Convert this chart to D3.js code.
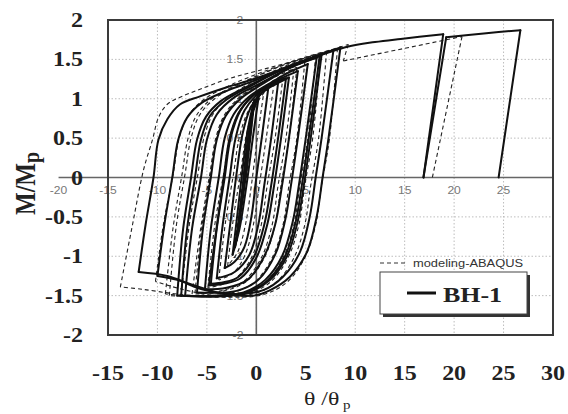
<!DOCTYPE html>
<html>
<head>
<meta charset="utf-8">
<script src="https://cdn.jsdelivr.net/npm/d3@7"></script>
<style>
  html, body { margin: 0; padding: 0; background: #fff; }
  svg { display: block; }
</style>
</head>
<body>
<svg id="chart" width="568" height="414"></svg>
<script>
// Axis ticks (rotation ratio θ/θp and moment ratio M/Mp)
const xTicks = [-15, -10, -5, 0, 5, 10, 15, 20, 25, 30];
const yTicks = [2, 1.5, 1, 0.5, 0, -0.5, -1, -1.5, -2];
const innerXTicks = [-20, -15, -10, -5, 0, 5, 10, 15, 20, 25];
const innerYTicks = [2, 1.5, 1, 0.5, 0, -0.5, -1, -1.5, -2];

// Specimen BH-1, measured hysteresis: one branch per half cycle (θ/θp, M/Mp)
const bh1Test = [
  [[-1.1,0.0],[-0.7,0.5],[-0.3,0.95]],
  [[-0.3,0.95],[-0.75,0.45],[-1.3,-0.1],[-1.7,-0.5],[-2.0,-0.8]],
  [[-2.0,-0.8],[-1.5,-0.25],[-0.9,0.45],[-0.2,0.98]],
  [[-0.2,0.98],[-0.7,0.4],[-1.4,-0.3],[-2.15,-0.88]],
  [[-2.15,-0.88],[-1.6,-0.4],[-1.0,0.25],[-0.5,0.75],[0.3,1.08]],
  [[0.3,1.08],[-0.3,0.55],[-1.0,-0.1],[-1.7,-0.65],[-2.4,-0.98]],
  [[-2.4,-0.98],[-1.9,-0.45],[-1.3,0.2],[-0.8,0.65],[-0.2,0.95],[0.5,1.07],[1.2,1.13]],
  [[1.2,1.13],[0.6,0.55],[0.0,0.0],[-0.5,-0.5],[-1.2,-0.88],[-2.2,-1.07],[-3.2,-1.15]],
  [[-3.2,-1.15],[-2.6,-0.55],[-2.0,0.05],[-1.4,0.55],[-0.6,0.88],[0.6,1.08],[2.2,1.20]],
  [[2.2,1.20],[1.5,0.5],[0.8,-0.1],[0.2,-0.6],[-0.7,-0.98],[-2.2,-1.2],[-4.0,-1.28]],
  [[-4.0,-1.28],[-3.4,-0.6],[-2.7,0.0],[-2.1,0.5],[-1.2,0.85],[0.3,1.08],[1.8,1.2],[3.0,1.26]],
  [[3.0,1.26],[2.2,0.5],[1.5,-0.1],[0.8,-0.6],[-0.3,-1.02],[-1.9,-1.27],[-3.3,-1.33],[-4.6,-1.35]],
  [[-4.6,-1.35],[-4.0,-0.65],[-3.2,0.0],[-2.6,0.5],[-1.6,0.85],[0.0,1.08],[1.8,1.18],[3.3,1.27]],
  [[3.3,1.27],[2.5,0.5],[1.8,-0.1],[1.1,-0.6],[0.0,-1.02],[-1.6,-1.28],[-3.3,-1.35],[-4.8,-1.37]],
  [[-4.8,-1.37],[-4.0,-0.62],[-3.3,0.0],[-2.7,0.5],[-1.8,0.82],[-0.4,1.03],[1.6,1.2],[4.2,1.35]],
  [[4.2,1.35],[3.3,0.5],[2.6,-0.1],[1.9,-0.6],[0.8,-1.0],[-0.9,-1.3],[-3.0,-1.4],[-5.2,-1.42]],
  [[-5.2,-1.42],[-4.6,-0.65],[-3.8,0.0],[-3.2,0.5],[-2.3,0.8],[-0.8,1.02],[1.4,1.2],[3.4,1.34],[5.2,1.44]],
  [[5.2,1.44],[4.2,0.5],[3.5,-0.1],[2.9,-0.55],[1.9,-0.98],[0.2,-1.3],[-2.0,-1.44],[-6.0,-1.46]],
  [[-6.0,-1.46],[-5.4,-0.65],[-4.6,0.0],[-4.0,0.48],[-3.1,0.78],[-1.6,1.0],[0.8,1.2],[3.5,1.4],[6.1,1.52]],
  [[6.1,1.52],[5.0,0.5],[4.3,-0.1],[3.7,-0.55],[2.6,-1.0],[0.9,-1.3],[-1.3,-1.46],[-4.2,-1.5],[-7.2,-1.5]],
  [[-7.2,-1.5],[-6.5,-0.65],[-5.6,0.0],[-5.0,0.48],[-4.0,0.8],[-2.2,1.02],[0.5,1.2],[3.5,1.4],[6.4,1.54]],
  [[6.4,1.54],[5.3,0.5],[4.6,-0.1],[4.0,-0.55],[2.9,-1.0],[1.2,-1.3],[-1.0,-1.46],[-4.2,-1.51],[-7.6,-1.5]],
  [[-7.6,-1.5],[-7.0,-0.65],[-6.2,0.0],[-5.6,0.48],[-4.7,0.78],[-3.0,0.99],[-0.3,1.18],[3.0,1.4],[6.6,1.56]],
  [[6.6,1.56],[5.5,0.5],[4.8,-0.1],[4.2,-0.55],[3.1,-1.0],[1.4,-1.3],[-0.8,-1.46],[-4.0,-1.51],[-8.0,-1.5]],
  [[-8.0,-1.5],[-7.4,-0.65],[-6.6,0.0],[-6.0,0.48],[-5.1,0.77],[-3.6,0.97],[-1.0,1.15],[2.5,1.36],[5.2,1.5],[7.8,1.62]],
  [[7.8,1.62],[6.6,0.5],[6.0,0.0],[5.4,-0.5],[4.4,-0.95],[2.7,-1.26],[0.7,-1.43],[-2.5,-1.48],[-5.5,-1.42],[-8.0,-1.3],[-10.0,-1.25]],
  [[-10.0,-1.25],[-9.3,-0.6],[-8.5,0.0],[-7.9,0.48],[-7.0,0.76],[-5.5,0.95],[-3.0,1.1],[0.0,1.24],[4.0,1.44],[8.5,1.65]],
  [[8.5,1.65],[7.3,0.5],[6.7,0.0],[6.1,-0.5],[5.1,-0.95],[3.4,-1.26],[1.4,-1.43],[-0.3,-1.5],[-3.5,-1.47],[-6.5,-1.36],[-9.0,-1.25],[-11.9,-1.2]],
  [[-11.9,-1.2],[-11.2,-0.6],[-10.4,0.0],[-9.9,0.48],[-9.0,0.74],[-7.7,0.93],[-5.7,1.03],[-2.9,1.15],[0.0,1.26],[4.4,1.46],[9.2,1.66],[12.0,1.72],[14.6,1.76],[18.9,1.82]],
  [[18.9,1.82],[16.9,0.0]],
  [[16.9,0.0],[19.2,1.78]],
  [[19.2,1.78],[23.0,1.83],[26.7,1.87]],
  [[26.7,1.87],[24.5,0.0]]
];

// Finite element prediction (ABAQUS), same branch layout
const abaqusModel = [
  [[-1.0,0.0],[-0.6,0.5],[-0.2,1.0]],
  [[-0.2,1.0],[-0.7,0.45],[-1.3,-0.15],[-1.8,-0.55],[-2.2,-0.9]],
  [[-2.2,-0.9],[-1.7,-0.4],[-1.1,0.2],[-0.5,0.7],[0.1,0.98],[0.8,1.12]],
  [[0.8,1.12],[0.1,0.5],[-0.5,-0.1],[-1.1,-0.6],[-1.9,-0.95],[-2.9,-1.12]],
  [[-2.9,-1.12],[-2.3,-0.5],[-1.6,0.05],[-1.0,0.55],[-0.2,0.88],[0.8,1.08],[1.8,1.2]],
  [[1.8,1.2],[1.0,0.5],[0.3,-0.1],[-0.3,-0.6],[-1.2,-1.0],[-2.4,-1.22],[-3.8,-1.3]],
  [[-3.8,-1.3],[-3.1,-0.55],[-2.3,0.05],[-1.7,0.52],[-0.8,0.85],[0.5,1.08],[2.7,1.28]],
  [[2.7,1.28],[1.9,0.5],[1.1,-0.1],[0.5,-0.6],[-0.5,-1.02],[-2.3,-1.3],[-4.9,-1.4]],
  [[-4.9,-1.4],[-4.2,-0.6],[-3.3,0.05],[-2.7,0.5],[-1.8,0.82],[-0.3,1.05],[1.6,1.22],[3.8,1.38]],
  [[3.8,1.38],[3.0,0.5],[2.2,-0.1],[1.6,-0.6],[0.5,-1.02],[-1.3,-1.32],[-3.6,-1.44],[-6.2,-1.47]],
  [[-6.2,-1.47],[-5.5,-0.62],[-4.6,0.05],[-4.0,0.5],[-3.1,0.8],[-1.5,1.03],[1.0,1.22],[4.1,1.4]],
  [[4.1,1.4],[3.3,0.5],[2.5,-0.1],[1.9,-0.6],[0.8,-1.02],[-1.0,-1.32],[-3.6,-1.45],[-6.5,-1.48]],
  [[-6.5,-1.48],[-5.6,-0.62],[-4.7,0.05],[-4.1,0.5],[-3.2,0.8],[-1.6,1.03],[1.2,1.25],[4.9,1.47]],
  [[4.9,1.47],[4.1,0.5],[3.3,-0.1],[2.7,-0.6],[1.6,-1.02],[-0.2,-1.33],[-2.6,-1.47],[-5.0,-1.5],[-7.6,-1.5]],
  [[-7.6,-1.5],[-6.8,-0.62],[-5.9,0.05],[-5.3,0.5],[-4.4,0.8],[-2.8,1.02],[0.0,1.24],[3.0,1.42],[6.0,1.55]],
  [[6.0,1.55],[5.2,0.5],[4.4,-0.1],[3.8,-0.6],[2.7,-1.02],[0.9,-1.33],[-1.5,-1.47],[-5.0,-1.51],[-8.8,-1.5]],
  [[-8.8,-1.5],[-8.1,-0.62],[-7.2,0.05],[-6.6,0.5],[-5.7,0.8],[-4.0,1.02],[-1.0,1.22],[3.0,1.44],[6.5,1.57]],
  [[6.5,1.57],[5.7,0.5],[4.9,-0.1],[4.3,-0.6],[3.2,-1.02],[1.4,-1.33],[-1.0,-1.48],[-5.0,-1.51],[-9.2,-1.48]],
  [[-9.2,-1.48],[-8.4,-0.62],[-7.5,0.05],[-6.9,0.5],[-6.0,0.8],[-4.3,1.02],[-1.2,1.22],[3.0,1.44],[7.1,1.6]],
  [[7.1,1.6],[6.3,0.5],[5.5,-0.1],[4.9,-0.6],[3.8,-1.02],[2.0,-1.33],[-0.4,-1.48],[-4.0,-1.5],[-7.5,-1.42],[-10.2,-1.32]],
  [[-10.2,-1.32],[-9.4,-0.6],[-8.4,0.05],[-7.8,0.5],[-6.9,0.78],[-5.3,0.99],[-2.5,1.18],[1.5,1.38],[5.0,1.53],[8.2,1.64]],
  [[8.2,1.64],[7.4,0.5],[6.6,-0.1],[6.0,-0.6],[4.9,-1.02],[3.1,-1.33],[0.6,-1.49],[-3.5,-1.52],[-8.0,-1.48],[-11.5,-1.42],[-13.75,-1.39]],
  [[-13.75,-1.39],[-12.6,-0.65],[-11.4,0.1],[-10.5,0.48],[-9.9,0.76],[-9.0,0.93],[-7.7,1.02],[-5.7,1.12],[-2.9,1.25],[0.0,1.35],[4.4,1.5],[9.3,1.69]],
  [[9.3,1.69],[8.8,1.48]],
  [[8.8,1.48],[20.8,1.79]],
  [[20.8,1.79],[17.8,0.0]]
];

const seriesNames = ["BH-1", "modeling-ABAQUS"];

const svg = d3.select("#chart");
const x = d3.scaleLinear().domain([-15, 30]).range([108, 553]);
const y = d3.scaleLinear().domain([-2, 2]).range([335, 20]);

// Horizontally widened text, as in the original figure
function wideText(parent, px, py, str, o) {
  return parent.append("text")
    .attr("transform", `translate(${px},${py}) scale(${o.sx || 1},1)`)
    .attr("text-anchor", o.anchor || "start")
    .attr("font-family", o.family)
    .attr("font-weight", o.weight || "normal")
    .attr("font-size", o.size)
    .attr("fill", o.fill || "#222")
    .text(str);
}

// Dotted grid
const grid = svg.append("g").attr("stroke", "#bdbdbd").attr("stroke-width", 1)
  .attr("stroke-dasharray", "1.5,2");
grid.selectAll("line.v").data(xTicks.filter(v => v > -15 && v < 30)).join("line")
  .attr("x1", d => x(d)).attr("x2", d => x(d)).attr("y1", y(2)).attr("y2", y(-2));
grid.selectAll("line.h").data(yTicks.filter(v => v > -2 && v < 2)).join("line")
  .attr("x1", x(-15)).attr("x2", x(30)).attr("y1", d => y(d)).attr("y2", d => y(d));

// Small inner labels along the zero axes
const inner = svg.append("g");
const sans = "Liberation Sans, Arial, sans-serif";
innerXTicks.forEach(v => {
  wideText(inner, x(v), y(0) + 16, String(v),
    { sx: 1.15, anchor: "middle", family: sans, size: 10.5, fill: "#777" });
});
innerYTicks.forEach(v => {
  wideText(inner, x(0) - 13, y(v) + 4, String(v),
    { sx: 1.15, anchor: "end", family: sans, size: 10.5, fill: "#777" });
});

// Zero axes
svg.append("line").attr("x1", x(-20)).attr("x2", x(30)).attr("y1", y(0)).attr("y2", y(0))
  .attr("stroke", "#666").attr("stroke-width", 1.6);
svg.append("line").attr("x1", x(0)).attr("x2", x(0)).attr("y1", y(2)).attr("y2", y(-2))
  .attr("stroke", "#666").attr("stroke-width", 1.6);

// Hysteresis curves, each half cycle drawn as its own smooth branch
const line = d3.line()
  .x(d => x(d[0])).y(d => y(d[1]))
  .curve(d3.curveCatmullRom.alpha(0.5));

svg.append("g").selectAll("path").data(abaqusModel).join("path")
  .attr("d", line)
  .attr("fill", "none").attr("stroke", "#222").attr("stroke-width", 1.1)
  .attr("stroke-dasharray", "4,3");
svg.append("g").selectAll("path").data(bh1Test).join("path")
  .attr("d", line)
  .attr("fill", "none").attr("stroke", "#111").attr("stroke-width", 2)
  .attr("stroke-linejoin", "round").attr("stroke-linecap", "round");

// Plot frame
svg.append("rect").attr("x", x(-15)).attr("y", y(2))
  .attr("width", x(30) - x(-15)).attr("height", y(-2) - y(2))
  .attr("fill", "none").attr("stroke", "#3a3a3a").attr("stroke-width", 2);

// Outer tick labels
const serif = "Liberation Serif, Times New Roman, serif";
xTicks.forEach(v => {
  wideText(svg, x(v), 380, String(v),
    { sx: 1.2, anchor: "middle", family: serif, weight: "bold", size: 20 });
});
yTicks.forEach(v => {
  wideText(svg, 83, y(v) + 7, String(v),
    { sx: 1.2, anchor: "end", family: serif, weight: "bold", size: 20 });
});

// Axis titles
const xt = svg.append("text")
  .attr("transform", "translate(304,405) scale(1.25,1)")
  .attr("font-family", serif).attr("font-size", 19).attr("fill", "#222");
xt.append("tspan").text("θ /θ");
xt.append("tspan").attr("dx", 3).attr("dy", 4).attr("font-size", 12).text("p");

const yt = svg.append("text")
  .attr("transform", "translate(35,215) rotate(-90) scale(1,1.2)")
  .attr("font-family", serif).attr("font-weight", "bold").attr("font-size", 24).attr("fill", "#222");
yt.append("tspan").text("M/M");
yt.append("tspan").attr("dy", 3).attr("font-size", 20).text("p");

// Legend
svg.append("line").attr("x1", 380).attr("x2", 406).attr("y1", 263).attr("y2", 263)
  .attr("stroke", "#333").attr("stroke-width", 1).attr("stroke-dasharray", "4,3");
wideText(svg, 413, 267, seriesNames[1],
  { sx: 1.12, family: sans, size: 11.5, fill: "#333" });

svg.append("rect").attr("x", 383).attr("y", 275).attr("width", 147).attr("height", 42)
  .attr("fill", "#333");
svg.append("rect").attr("x", 380).attr("y", 272).attr("width", 147).attr("height", 42)
  .attr("fill", "#fff").attr("stroke", "#444").attr("stroke-width", 1);
svg.append("line").attr("x1", 407).attr("x2", 436).attr("y1", 293).attr("y2", 293)
  .attr("stroke", "#111").attr("stroke-width", 3);
wideText(svg, 443, 302, seriesNames[0],
  { sx: 1.18, family: serif, weight: "bold", size: 22 });
</script>
</body>
</html>
